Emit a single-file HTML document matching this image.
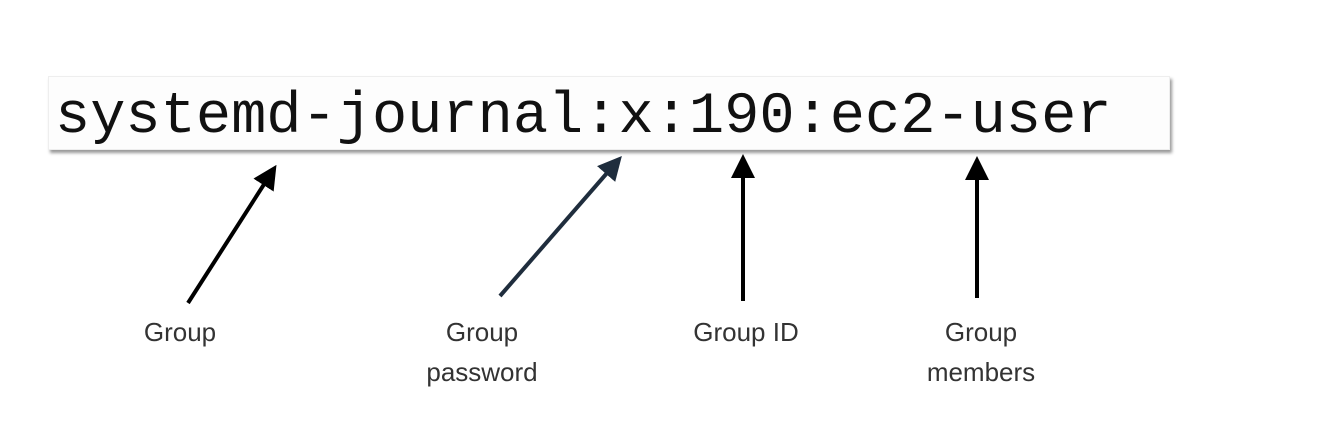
<!DOCTYPE html>
<html><head><style>
body{margin:0;width:1325px;height:446px;background:#fff;position:relative;overflow:hidden;font-family:"Liberation Sans",sans-serif}
.box{position:absolute;left:48px;top:76px;width:1120px;height:72px;background:#fdfdfd;border:1px solid #eee;box-shadow:2px 3px 3px #999}
.code{position:absolute;left:55px;top:82px;font-family:"Liberation Mono",monospace;font-size:58.7px;line-height:70px;color:#111;white-space:pre}
.lbl{position:absolute;font-size:26px;color:#333;text-align:center;line-height:40px;width:200px}
</style></head><body>
<div class="box"></div>
<div class="code">systemd-journal:x:190:ec2-user</div>
<svg width="1325" height="446" style="position:absolute;left:0;top:0">
<defs>
<marker id="a" markerWidth="6" markerHeight="6" refX="3" refY="3" orient="auto" markerUnits="strokeWidth"><path d="M0,0L6,3L0,6z" fill="#000"/></marker>
<marker id="b" markerWidth="6" markerHeight="6" refX="3" refY="3" orient="auto" markerUnits="strokeWidth"><path d="M0,0L6,3L0,6z" fill="#1f2d3d"/></marker>
</defs>
<line x1="188" y1="303" x2="270" y2="175" stroke="#000" stroke-width="4" marker-end="url(#a)"/>
<line x1="500" y1="296" x2="614" y2="165" stroke="#1f2d3d" stroke-width="4" marker-end="url(#b)"/>
<line x1="743" y1="301" x2="743" y2="166" stroke="#000" stroke-width="4" marker-end="url(#a)"/>
<line x1="977" y1="298" x2="977" y2="168" stroke="#000" stroke-width="4" marker-end="url(#a)"/>
</svg>
<div class="lbl" style="left:80px;top:312px">Group</div>
<div class="lbl" style="left:382px;top:312px">Group<br>password</div>
<div class="lbl" style="left:646px;top:312px">Group ID</div>
<div class="lbl" style="left:881px;top:312px">Group<br>members</div>
</body></html>
